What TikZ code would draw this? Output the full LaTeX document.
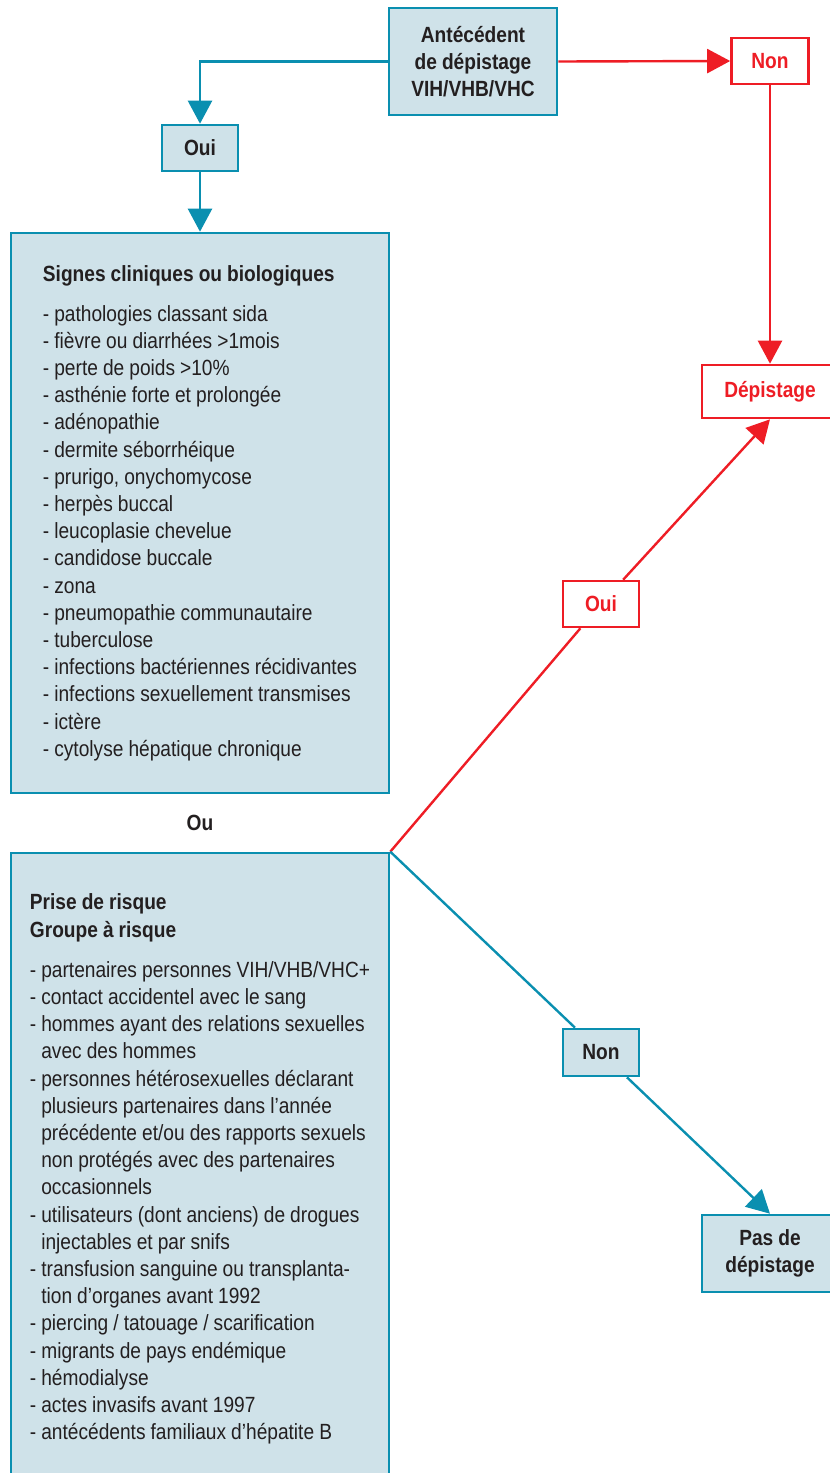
\documentclass[tikz,border=0pt]{standalone}
\usepackage{fontspec}
\setmainfont{Liberation Sans}[FakeStretch=0.87,WordSpace=0.95]
\usetikzlibrary{arrows.meta,positioning}
\definecolor{flowblue}{HTML}{0A8FB0}
\definecolor{flowred}{HTML}{EE1D25}
\definecolor{boxfill}{HTML}{CFE2E9}
\definecolor{ink}{HTML}{231F20}
\newcommand\ind{\hphantom{- }}
\tikzset{box/.style={draw=flowblue,line width=2.6pt,fill=boxfill,text=ink,align=center,inner sep=0pt,font=\fontsize{22}{27}\selectfont\bfseries},redbox/.style={box,draw=flowred,fill=white,text=flowred},listbox/.style={box,align=left,font=\fontsize{22}{27.2}\selectfont},edge/.style={-{Triangle[length=23pt,width=24pt]},line width=2.4pt,draw=flowblue},redge/.style={edge,draw=flowred},plain/.style={line width=2.4pt,draw=flowblue},rplain/.style={plain,draw=flowred}}

\begin{document}
\begin{tikzpicture}[x=1pt,y=-1pt]
\useasboundingbox (0,0) rectangle (830,1473);
\node[box,minimum width=168pt,minimum height=107pt] (hist) at (473,61.5) {Antécédent\\de dépistage\\VIH/VHB/VHC};
\node[redbox,minimum width=77pt,minimum height=46pt] (nonR) at (770,61) {Non};
\node[box,minimum width=76pt,minimum height=46pt] (ouiB) at (200,148) {Oui};
\node[redbox,minimum width=136pt,minimum height=53pt] (dep) at (770,391.5) {Dépistage};
\node[listbox,minimum width=378pt,minimum height=560pt] (signes) at (200,513) {\textbf{Signes cliniques ou biologiques}\\[13pt]
- pathologies classant sida\\
- fièvre ou diarrhées >1mois\\
- perte de poids >10\%\\
- asthénie forte et prolongée\\
- adénopathie\\
- dermite séborrhéique\\
- prurigo, onychomycose\\
- herpès buccal\\
- leucoplasie chevelue\\
- candidose buccale\\
- zona\\
- pneumopathie communautaire\\
- tuberculose\\
- infections bactériennes récidivantes\\
- infections sexuellement transmises\\
- ictère\\
- cytolyse hépatique chronique};
\node[text=ink,font=\fontsize{22}{27}\selectfont\bfseries] (ou) at (200,823) {Ou};
\node[listbox,minimum width=378pt,minimum height=632pt] (prise) at (200,1169) {\textbf{Prise de risque}\\
\textbf{Groupe à risque}\\[13pt]
- partenaires personnes VIH/VHB/VHC+\\
- contact accidentel avec le sang\\
- hommes ayant des relations sexuelles\\
\ind avec des hommes\\
- personnes hétérosexuelles déclarant\\
\ind plusieurs partenaires dans l’année\\
\ind précédente et/ou des rapports sexuels\\
\ind non protégés avec des partenaires\\
\ind occasionnels\\
- utilisateurs (dont anciens) de drogues\\
\ind injectables et par snifs\\
- transfusion sanguine ou transplanta-\\
\ind tion d’organes avant 1992\\
- piercing / tatouage / scarification\\
- migrants de pays endémique\\
- hémodialyse\\
- actes invasifs avant 1997\\
- antécédents familiaux d’hépatite B};
\node[redbox,minimum width=76pt,minimum height=46pt] (ouiR) at (601,604) {Oui};
\node[box,minimum width=76pt,minimum height=47pt] (nonB) at (601,1052.5) {Non};
\node[box,minimum width=136pt,minimum height=77pt] (pas) at (770,1253.5) {Pas de\\dépistage};
% connectors
\draw[redge] (hist.east) -- (nonR.west);\draw[edge] (hist.west) -| (ouiB.north);\draw[edge] (ouiB) -- (signes);\draw[redge] (nonR) -- (dep);
\draw[rplain] (prise.north east) -- (ouiR);\draw[redge] (ouiR) -- (dep.south);\draw[plain] (prise.north east) -- (nonB);\draw[edge] (nonB) -- (pas.north);
\end{tikzpicture}
\end{document}
